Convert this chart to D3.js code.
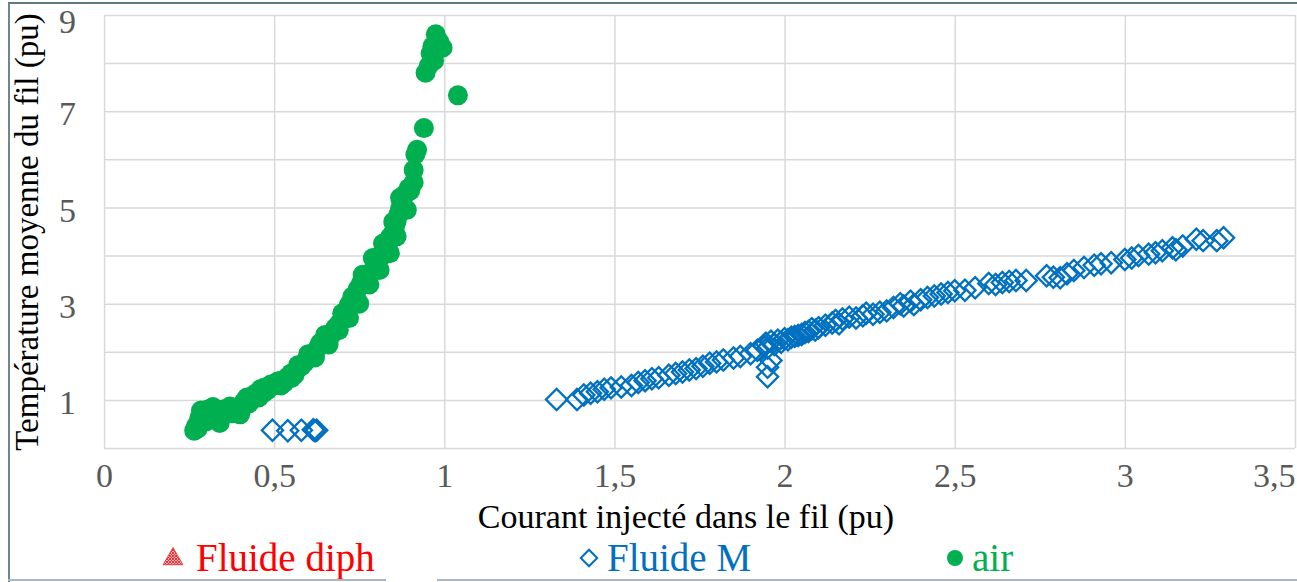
<!DOCTYPE html>
<html>
<head>
<meta charset="utf-8">
<script src="https://cdn.jsdelivr.net/npm/d3@7"></script>
<style>
body{margin:0;background:#fff;}
text{font-family:"Liberation Serif","Times New Roman",serif;}
</style>
</head>
<body>
<div id="chart"></div>
<script>
// values
var airX = [0.265,0.27,0.275,0.28,0.285,0.29,0.30,0.305,0.31,0.32,0.325,0.33,0.34,0.345,0.35,0.36,0.37,0.375,0.38,0.39,
            0.40,0.405,0.41,0.42,0.425,0.43,0.44,0.45,0.455,0.46,0.47,0.48,0.49,0.50,0.51,0.52,0.53,0.54,0.55,0.56,
            0.57,0.58,0.59,0.60,0.61,0.62,0.63,0.635,0.645,0.655,0.665,0.675,0.68,0.69,0.70,0.705,0.715,0.72,0.73,0.74,
            0.745,0.755,0.76,0.77,0.78,0.79,0.80,0.805,0.815,0.82,0.83,0.835,0.84,0.85,0.855,0.86,0.865,0.87,0.875,0.88,
            0.885,0.895,0.91,0.91,0.915,0.92,0.94,0.945,0.955,0.96,0.97,0.975,0.985,0.995,0.965,1.04,
            0.60,0.62,0.65,0.66,0.69,0.70,0.72,0.73,0.75,0.76,0.78,0.79,0.81,0.82,0.84,0.85,0.86,0.87,0.89,0.90,
            0.55,0.57,0.52,0.47,0.43];
var airY = [0.36,0.45,0.40,0.62,0.78,0.70,0.55,0.80,0.72,0.85,0.75,0.60,0.52,0.68,0.80,0.78,0.86,0.72,0.82,0.78,
            0.70,0.82,0.95,1.05,0.92,1.02,1.10,1.15,1.05,1.22,1.25,1.20,1.32,1.30,1.38,1.40,1.36,1.48,1.55,1.52,
            1.65,1.70,1.78,1.85,1.90,2.00,2.10,2.18,2.22,2.25,2.32,2.40,2.50,2.58,2.68,2.78,2.88,2.98,3.05,3.18,
            3.30,3.42,3.50,3.58,3.62,3.70,3.78,3.88,3.98,4.08,4.15,4.25,4.38,4.48,4.60,4.72,4.85,4.98,5.10,5.22,
            5.28,5.40,5.52,5.78,6.10,6.20,6.65,7.80,7.95,8.20,8.05,8.60,8.45,8.32,8.35,7.33,
            1.95,1.88,2.35,2.15,2.45,2.80,2.70,3.15,3.00,3.60,3.40,3.95,3.70,4.25,4.05,4.70,4.40,5.20,4.95,5.35,
            1.45,1.72,1.30,1.15,0.98];

var fluideMX = [0.495,0.54,0.58,0.615,0.62,0.625,
                1.33,1.39,1.41,1.43,1.45,1.47,1.49,1.52,1.55,1.57,1.59,1.61,1.63,1.66,1.68,1.70,1.72,1.74,1.76,1.78,
                1.80,1.82,1.85,1.87,1.90,1.92,1.94,1.945,1.95,1.95,1.95,1.96,1.96,1.97,1.98,1.99,2.00,2.01,2.02,2.03,
                2.04,2.05,2.06,2.07,2.08,2.09,2.10,2.12,2.14,2.15,2.16,2.17,2.19,2.21,2.23,2.24,2.26,2.28,2.30,2.32,
                2.34,2.35,2.37,2.38,2.40,2.42,2.44,2.46,2.48,2.50,2.53,2.56,2.60,2.62,2.64,2.66,2.68,2.71,2.77,2.79,
                2.81,2.83,2.85,2.88,2.91,2.93,2.96,3.00,3.02,3.04,3.07,3.09,3.11,3.14,3.15,3.17,3.21,3.23,3.27,3.29];
var fluideMY = [0.37,0.36,0.37,0.38,0.36,0.37,
                1.01,1.01,1.10,1.14,1.17,1.22,1.25,1.27,1.30,1.36,1.40,1.44,1.46,1.51,1.55,1.58,1.62,1.65,1.70,1.76,
                1.79,1.83,1.87,1.90,1.96,2.03,2.12,2.18,2.08,1.68,1.48,1.82,2.22,2.15,2.24,2.20,2.27,2.25,2.30,2.32,
                2.34,2.36,2.40,2.42,2.48,2.45,2.50,2.55,2.60,2.65,2.58,2.68,2.72,2.70,2.75,2.80,2.78,2.82,2.85,2.92,
                3.00,2.95,3.05,2.98,3.08,3.13,3.16,3.20,3.23,3.27,3.28,3.33,3.42,3.40,3.44,3.46,3.48,3.48,3.58,3.55,
                3.54,3.62,3.69,3.75,3.80,3.83,3.85,3.92,3.95,4.00,4.03,4.06,4.10,4.16,4.12,4.20,4.34,4.31,4.31,4.37];

var fluideDiphX = [];
var fluideDiphY = [];

var xTicks = [0,0.5,1,1.5,2,2.5,3,3.5];
var yGridTicks = [0,1,2,3,4,5,6,7,8,9];
var yLabelTicks = [1,3,5,7,9];
var seriesNames = ["Fluide diph","Fluide M","air"];

var width = 1297;
var height = 582;
var plotLeft = 104, plotRight = 1295, plotTop = 15, plotBottom = 448;

var svg = d3.select("#chart").append("svg")
    .attr("width", width)
    .attr("height", height);

var defs = svg.append("defs");
var hatch = defs.append("pattern")
    .attr("id", "hatch")
    .attr("width", 3).attr("height", 3)
    .attr("patternUnits", "userSpaceOnUse");
hatch.append("rect").attr("width", 3).attr("height", 3).attr("fill", "#f6b3b3");
hatch.append("path").attr("d", "M0,0L3,3M3,0L0,3").attr("stroke", "#e8262b").attr("stroke-width", 0.9);

var x = d3.scaleLinear().domain([0, 3.5]).range([plotLeft, plotRight]);
var y = d3.scaleLinear().domain([0, 9]).range([plotBottom, plotTop]);

var fmt = function(d){ return String(d).replace(".", ","); };

// grid
svg.append("g")
    .attr("class", "xgrid")
    .attr("transform", "translate(0," + plotBottom + ")")
    .call(d3.axisBottom(x).tickValues(xTicks).tickSize(-(plotBottom - plotTop)).tickFormat(""))
    .call(g => g.select(".domain").remove());
svg.append("g")
    .attr("class", "ygrid")
    .attr("transform", "translate(" + plotLeft + ",0)")
    .call(d3.axisLeft(y).tickValues(yGridTicks).tickSize(-(plotRight - plotLeft)).tickFormat(""))
    .call(g => g.select(".domain").remove());
svg.selectAll(".xgrid line, .ygrid line")
    .attr("stroke", "#d9d9d9")
    .attr("stroke-width", 1.5);

// tick labels
var xAxis = svg.append("g")
    .attr("transform", "translate(0," + plotBottom + ")")
    .call(d3.axisBottom(x).tickValues(xTicks).tickSize(0).tickPadding(15).tickFormat(fmt));
xAxis.select(".domain").remove();
xAxis.selectAll("text")
    .attr("font-family", "Liberation Serif")
    .attr("font-size", 34)
    .attr("fill", "#595959")
    .attr("text-anchor", function(d){ return d == 3.5 ? "end" : "middle"; });

var yAxis = svg.append("g")
    .attr("transform", "translate(" + plotLeft + ",0)")
    .call(d3.axisLeft(y).tickValues(yLabelTicks).tickSize(0).tickPadding(28).tickFormat(fmt));
yAxis.select(".domain").remove();
yAxis.selectAll("text")
    .attr("font-family", "Liberation Serif")
    .attr("font-size", 34)
    .attr("fill", "#595959")
    .attr("dy", function(d){ return d == 9 ? "0.5em" : "0.4em"; });

// axis titles
svg.append("text")
    .attr("x", 686).attr("y", 528)
    .attr("text-anchor", "middle")
    .style("font-size", "34px")
    .attr("fill", "#000")
    .text("Courant injecté dans le fil (pu)");
svg.append("text")
    .attr("transform", "translate(38,232) rotate(-90)")
    .attr("text-anchor", "middle")
    .style("font-size", "33px")
    .attr("fill", "#000")
    .text("Température moyenne du fil (pu)");

// series
var fluideM = fluideMX.map(function(d, i){ return {x: d, y: fluideMY[i]}; });
var air = airX.map(function(d, i){ return {x: d, y: airY[i]}; });
var diph = fluideDiphX.map(function(d, i){ return {x: d, y: fluideDiphY[i]}; });

svg.append("g").selectAll("path")
    .data(diph).enter().append("path")
    .attr("d", d3.symbol(d3.symbolTriangle, 120))
    .attr("transform", function(d){ return "translate(" + x(d.x) + "," + y(d.y) + ")"; })
    .attr("fill", "url(#hatch)");

svg.append("g").selectAll("path")
    .data(fluideM).enter().append("path")
    .attr("d", d3.symbol(d3.symbolSquare, 225))
    .attr("transform", function(d){ return "translate(" + x(d.x) + "," + y(d.y) + ") rotate(45)"; })
    .attr("fill", "none")
    .attr("stroke", "#0070c0")
    .attr("stroke-width", 2.3);

svg.append("g").selectAll("circle")
    .data(air).enter().append("circle")
    .attr("cx", function(d){ return x(d.x); })
    .attr("cy", function(d){ return y(d.y); })
    .attr("r", 10)
    .attr("fill", "#00b050");

// legend
var legendColors = ["#ff0000", "#0070c0", "#00b050"];
var legendX = [173, 589, 955];
var legendTextX = [196, 607, 972];
var legend = svg.selectAll(".legend")
    .data(seriesNames).enter().append("g")
    .attr("class", "legend")
    .attr("transform", function(d, i){ return "translate(" + legendX[i] + ",558)"; });
legend.each(function(d, i){
    var g = d3.select(this);
    if (i == 0) {
        g.append("path").attr("d", d3.symbol(d3.symbolTriangle, 170)).attr("transform", "translate(0,1)")
            .attr("fill", "url(#hatch)").attr("stroke", "#e8262b").attr("stroke-width", 0.8);
    } else if (i == 1) {
        g.append("path").attr("d", d3.symbol(d3.symbolSquare, 135)).attr("transform", "rotate(45)")
            .attr("fill", "none").attr("stroke", "#0070c0").attr("stroke-width", 2);
    } else {
        g.append("circle").attr("r", 8).attr("fill", "#00b050");
    }
    g.append("text")
        .attr("x", legendTextX[i] - legendX[i]).attr("y", 13)
        .style("font-size", "39px")
        .attr("fill", legendColors[i])
        .text(d);
});

// frame
svg.append("line").attr("x1", 8).attr("x2", width).attr("y1", 3).attr("y2", 3)
    .attr("stroke", "#5f7888").attr("stroke-width", 2);
svg.append("line").attr("x1", 9).attr("x2", 9).attr("y1", 3).attr("y2", height)
    .attr("stroke", "#6f8595").attr("stroke-width", 2);
svg.append("line").attr("x1", 8).attr("x2", 386).attr("y1", 580).attr("y2", 580)
    .attr("stroke", "#a9b7c3").attr("stroke-width", 2);
svg.append("line").attr("x1", 437).attr("x2", width).attr("y1", 580).attr("y2", 580)
    .attr("stroke", "#a9b7c3").attr("stroke-width", 2);
</script>
</body>
</html>
